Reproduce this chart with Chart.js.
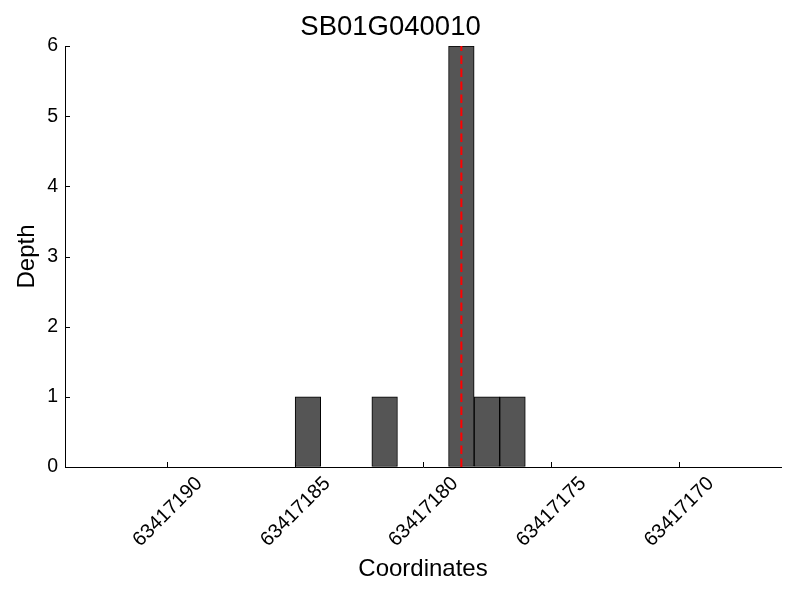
<!DOCTYPE html>
<html>
<head>
<meta charset="utf-8">
<script src="https://cdn.jsdelivr.net/npm/chart.js@4"></script>
<style>
  html, body { margin: 0; padding: 0; background: #ffffff; }
  #wrap { width: 800px; height: 600px; }
</style>
</head>
<body>
<div id="wrap"><canvas id="c" width="800" height="600"></canvas></div>
<script>
const binCenters = [63417184.5, 63417181.5, 63417178.5, 63417177.5, 63417176.5];
const depths = [1, 1, 6, 1, 1];
const markerPos = 63417178.5;
const xTicks = [63417190, 63417185, 63417180, 63417175, 63417170];
const yTicks = [0, 1, 2, 3, 4, 5, 6];
const xRange = [63417166, 63417194];
const yRange = [0, 6];
const titleText = 'SB01G040010';
const xLabel = 'Coordinates';
const yLabel = 'Depth';

const FONT = "'Liberation Sans', Arial, Helvetica, sans-serif";

const innerTicks = {
  id: 'innerTicks',
  afterDatasetsDraw(chart) {
    const ctx = chart.ctx;
    const xs = chart.scales.x, ys = chart.scales.y;
    const a = chart.chartArea;
    ctx.save();
    ctx.strokeStyle = '#000';
    ctx.lineWidth = 1;
    ctx.beginPath();
    xs.ticks.forEach(t => {
      const px = Math.round(xs.getPixelForValue(t.value)) + 0.5;
      ctx.moveTo(px, a.bottom);
      ctx.lineTo(px, a.bottom - 5);
    });
    ys.ticks.forEach(t => {
      const py = Math.round(ys.getPixelForValue(t.value)) + 0.5;
      ctx.moveTo(a.left, py);
      ctx.lineTo(a.left + 5, py);
    });
    ctx.stroke();
    ctx.restore();
  }
};

new Chart(document.getElementById('c'), {
  data: {
    datasets: [
      {
        type: 'line',
        data: [{x: markerPos, y: yRange[0]}, {x: markerPos, y: yRange[1]}],
        borderColor: '#ff0000',
        borderWidth: 2,
        borderDash: [8.5, 4.5],
        borderCapStyle: 'butt',
        pointRadius: 0,
        fill: false,
        order: 0
      },
      {
        type: 'bar',
        data: binCenters.map((c, i) => ({x: c, y: depths[i]})),
        backgroundColor: '#555555',
        borderColor: '#000000',
        borderWidth: 1,
        borderSkipped: false,
        barPercentage: 1.0,
        categoryPercentage: 1.0,
        order: 1
      }
    ]
  },
  options: {
    responsive: false,
    animation: false,
    devicePixelRatio: 1,
    layout: { padding: { left: 0, right: 19, top: 0, bottom: 0 } },
    plugins: {
      legend: { display: false },
      tooltip: { enabled: false },
      title: {
        display: true,
        text: titleText,
        color: '#000',
        font: { family: FONT, size: 27.5, weight: 'normal' },
        padding: { top: 11, bottom: 2 }
      }
    },
    scales: {
      x: {
        type: 'linear',
        reverse: true,
        offset: false,
        min: xRange[0],
        max: xRange[1],
        afterBuildTicks(scale) { scale.ticks = xTicks.map(v => ({value: v})); },
        afterFit(scale) { scale.height = 133; },
        grid: { display: true, drawOnChartArea: false, drawTicks: false, offset: false },
        border: { display: true, color: '#000', width: 1 },
        ticks: {
          autoSkip: false,
          minRotation: 45,
          maxRotation: 45,
          padding: 5,
          labelOffset: 32,
          color: '#000',
          font: { family: FONT, size: 20 },
          callback: (v) => String(v)
        },
        title: {
          display: true,
          text: xLabel,
          color: '#000',
          font: { family: FONT, size: 24 },
          padding: { top: 0, bottom: 16 }
        }
      },
      y: {
        type: 'linear',
        min: yRange[0],
        max: yRange[1],
        afterBuildTicks(scale) { scale.ticks = yTicks.map(v => ({value: v})); },
        afterFit(scale) { scale.width = 65; },
        grid: { display: true, drawOnChartArea: false, drawTicks: false },
        border: { display: true, color: '#000', width: 1 },
        ticks: {
          padding: 7,
          color: '#000',
          font: { family: FONT, size: 19.5 },
          callback: (v) => String(v)
        },
        title: {
          display: true,
          text: yLabel,
          color: '#000',
          font: { family: FONT, size: 24 },
          padding: { top: 13, bottom: 0 }
        }
      }
    }
  },
  plugins: [innerTicks]
});
</script>
</body>
</html>
